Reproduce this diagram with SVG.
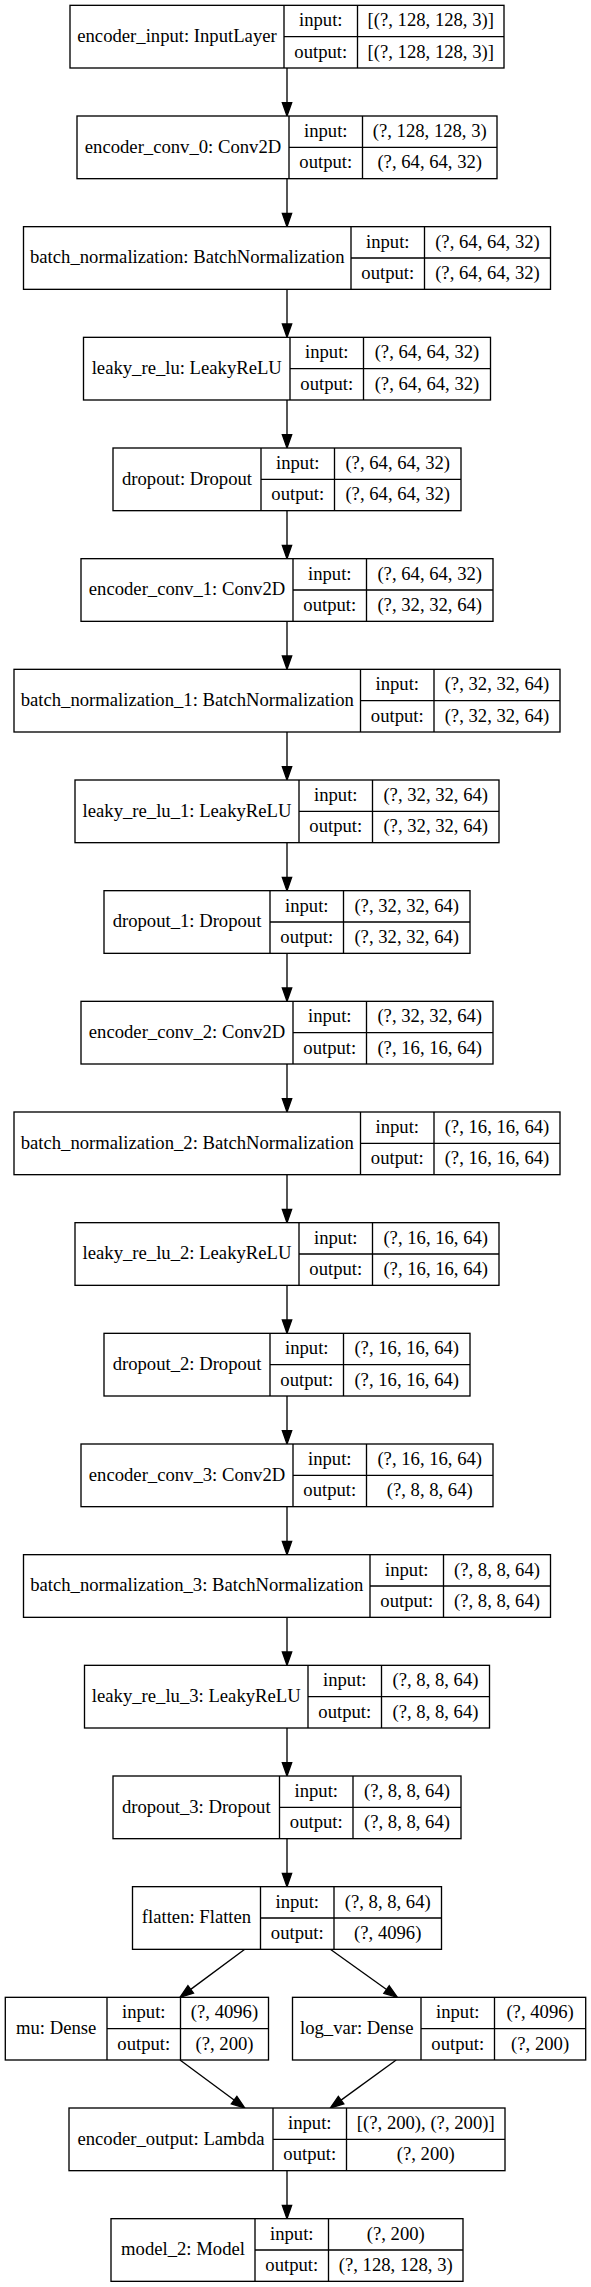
<svg xmlns="http://www.w3.org/2000/svg" width="591" height="2287" viewBox="0 0 591 2287">
<style>
.box{fill:#fff;stroke:#000;stroke-width:1.33}
.ln{stroke:#000;stroke-width:1.33;fill:none}
text{font-family:"Liberation Serif","Times New Roman",serif;font-size:18.67px;fill:#000;text-anchor:middle}
.edge{stroke:#000;stroke-width:1.33;fill:none;marker-end:url(#ah)}
</style>
<defs>
<marker id="ah" markerUnits="userSpaceOnUse" markerWidth="14" markerHeight="10" refX="0" refY="4.67" orient="auto" overflow="visible">
<path d="M0,0 L13.33,4.67 L0,9.33 z" fill="#000" stroke="#000" stroke-width="1.33"/>
</marker>
</defs>
<rect x="0" y="0" width="591" height="2287" fill="#fff"/>

<g id="connectors">
<path class="edge" d="M287,68 V102.67"/>
<path class="edge" d="M287,178.67 V213.33"/>
<path class="edge" d="M287,289.33 V324"/>
<path class="edge" d="M287,400 V434.67"/>
<path class="edge" d="M287,510.67 V545.33"/>
<path class="edge" d="M287,621.33 V656"/>
<path class="edge" d="M287,732 V766.67"/>
<path class="edge" d="M287,842.67 V877.33"/>
<path class="edge" d="M287,953.33 V988"/>
<path class="edge" d="M287,1064 V1098.67"/>
<path class="edge" d="M287,1174.67 V1209.33"/>
<path class="edge" d="M287,1285.33 V1320"/>
<path class="edge" d="M287,1396 V1430.67"/>
<path class="edge" d="M287,1506.67 V1541.33"/>
<path class="edge" d="M287,1617.33 V1652"/>
<path class="edge" d="M287,1728 V1762.67"/>
<path class="edge" d="M287,1838.67 V1873.33"/>
<path class="edge" d="M244.8,1949.33 L190.71,1989.4"/>
<path class="edge" d="M330.3,1949.33 L386.56,1989.57"/>
<path class="edge" d="M180,2060 L234.09,2100.07"/>
<path class="edge" d="M396.2,2060 L341.07,2100.15"/>
<path class="edge" d="M287,2170.67 V2205.33"/>
</g>

<g id="encoder_input" transform="translate(0,5.33)">
<rect class="box" x="70" y="0" width="434" height="62.67"/>
<path class="ln" d="M284,0 V62.67 M357.5,0 V62.67 M284,31.33 H504"/>
<text x="177" y="36.6">encoder_input: InputLayer</text>
<text x="320.75" y="21">input:</text>
<text x="320.75" y="52.3">output:</text>
<text x="430.75" y="21">[(?, 128, 128, 3)]</text>
<text x="430.75" y="52.3">[(?, 128, 128, 3)]</text>
</g>

<g id="encoder_conv_0" transform="translate(0,116)">
<rect class="box" x="77" y="0" width="420" height="62.67"/>
<path class="ln" d="M289,0 V62.67 M362.5,0 V62.67 M289,31.33 H497"/>
<text x="183" y="36.6">encoder_conv_0: Conv2D</text>
<text x="325.75" y="21">input:</text>
<text x="325.75" y="52.3">output:</text>
<text x="429.75" y="21">(?, 128, 128, 3)</text>
<text x="429.75" y="52.3">(?, 64, 64, 32)</text>
</g>

<g id="batch_normalization" transform="translate(0,226.67)">
<rect class="box" x="23.5" y="0" width="527" height="62.67"/>
<path class="ln" d="M351,0 V62.67 M424.5,0 V62.67 M351,31.33 H550.5"/>
<text x="187.25" y="36.6">batch_normalization: BatchNormalization</text>
<text x="387.75" y="21">input:</text>
<text x="387.75" y="52.3">output:</text>
<text x="487.5" y="21">(?, 64, 64, 32)</text>
<text x="487.5" y="52.3">(?, 64, 64, 32)</text>
</g>

<g id="leaky_re_lu" transform="translate(0,337.33)">
<rect class="box" x="83.5" y="0" width="407" height="62.67"/>
<path class="ln" d="M290,0 V62.67 M363.5,0 V62.67 M290,31.33 H490.5"/>
<text x="186.75" y="36.6">leaky_re_lu: LeakyReLU</text>
<text x="326.75" y="21">input:</text>
<text x="326.75" y="52.3">output:</text>
<text x="427" y="21">(?, 64, 64, 32)</text>
<text x="427" y="52.3">(?, 64, 64, 32)</text>
</g>

<g id="dropout" transform="translate(0,448)">
<rect class="box" x="113" y="0" width="348" height="62.67"/>
<path class="ln" d="M261,0 V62.67 M334.5,0 V62.67 M261,31.33 H461"/>
<text x="187" y="36.6">dropout: Dropout</text>
<text x="297.75" y="21">input:</text>
<text x="297.75" y="52.3">output:</text>
<text x="397.75" y="21">(?, 64, 64, 32)</text>
<text x="397.75" y="52.3">(?, 64, 64, 32)</text>
</g>

<g id="encoder_conv_1" transform="translate(0,558.67)">
<rect class="box" x="81" y="0" width="412" height="62.67"/>
<path class="ln" d="M293,0 V62.67 M366.5,0 V62.67 M293,31.33 H493"/>
<text x="187" y="36.6">encoder_conv_1: Conv2D</text>
<text x="329.75" y="21">input:</text>
<text x="329.75" y="52.3">output:</text>
<text x="429.75" y="21">(?, 64, 64, 32)</text>
<text x="429.75" y="52.3">(?, 32, 32, 64)</text>
</g>

<g id="batch_normalization_1" transform="translate(0,669.33)">
<rect class="box" x="14" y="0" width="546" height="62.67"/>
<path class="ln" d="M360.5,0 V62.67 M434,0 V62.67 M360.5,31.33 H560"/>
<text x="187.25" y="36.6">batch_normalization_1: BatchNormalization</text>
<text x="397.25" y="21">input:</text>
<text x="397.25" y="52.3">output:</text>
<text x="497" y="21">(?, 32, 32, 64)</text>
<text x="497" y="52.3">(?, 32, 32, 64)</text>
</g>

<g id="leaky_re_lu_1" transform="translate(0,780)">
<rect class="box" x="75" y="0" width="424" height="62.67"/>
<path class="ln" d="M299,0 V62.67 M372.5,0 V62.67 M299,31.33 H499"/>
<text x="187" y="36.6">leaky_re_lu_1: LeakyReLU</text>
<text x="335.75" y="21">input:</text>
<text x="335.75" y="52.3">output:</text>
<text x="435.75" y="21">(?, 32, 32, 64)</text>
<text x="435.75" y="52.3">(?, 32, 32, 64)</text>
</g>

<g id="dropout_1" transform="translate(0,890.67)">
<rect class="box" x="104" y="0" width="366" height="62.67"/>
<path class="ln" d="M270,0 V62.67 M343.5,0 V62.67 M270,31.33 H470"/>
<text x="187" y="36.6">dropout_1: Dropout</text>
<text x="306.75" y="21">input:</text>
<text x="306.75" y="52.3">output:</text>
<text x="406.75" y="21">(?, 32, 32, 64)</text>
<text x="406.75" y="52.3">(?, 32, 32, 64)</text>
</g>

<g id="encoder_conv_2" transform="translate(0,1001.33)">
<rect class="box" x="81" y="0" width="412" height="62.67"/>
<path class="ln" d="M293,0 V62.67 M366.5,0 V62.67 M293,31.33 H493"/>
<text x="187" y="36.6">encoder_conv_2: Conv2D</text>
<text x="329.75" y="21">input:</text>
<text x="329.75" y="52.3">output:</text>
<text x="429.75" y="21">(?, 32, 32, 64)</text>
<text x="429.75" y="52.3">(?, 16, 16, 64)</text>
</g>

<g id="batch_normalization_2" transform="translate(0,1112)">
<rect class="box" x="14" y="0" width="546" height="62.67"/>
<path class="ln" d="M360.5,0 V62.67 M434,0 V62.67 M360.5,31.33 H560"/>
<text x="187.25" y="36.6">batch_normalization_2: BatchNormalization</text>
<text x="397.25" y="21">input:</text>
<text x="397.25" y="52.3">output:</text>
<text x="497" y="21">(?, 16, 16, 64)</text>
<text x="497" y="52.3">(?, 16, 16, 64)</text>
</g>

<g id="leaky_re_lu_2" transform="translate(0,1222.67)">
<rect class="box" x="75" y="0" width="424" height="62.67"/>
<path class="ln" d="M299,0 V62.67 M372.5,0 V62.67 M299,31.33 H499"/>
<text x="187" y="36.6">leaky_re_lu_2: LeakyReLU</text>
<text x="335.75" y="21">input:</text>
<text x="335.75" y="52.3">output:</text>
<text x="435.75" y="21">(?, 16, 16, 64)</text>
<text x="435.75" y="52.3">(?, 16, 16, 64)</text>
</g>

<g id="dropout_2" transform="translate(0,1333.33)">
<rect class="box" x="104" y="0" width="366" height="62.67"/>
<path class="ln" d="M270,0 V62.67 M343.5,0 V62.67 M270,31.33 H470"/>
<text x="187" y="36.6">dropout_2: Dropout</text>
<text x="306.75" y="21">input:</text>
<text x="306.75" y="52.3">output:</text>
<text x="406.75" y="21">(?, 16, 16, 64)</text>
<text x="406.75" y="52.3">(?, 16, 16, 64)</text>
</g>

<g id="encoder_conv_3" transform="translate(0,1444)">
<rect class="box" x="81" y="0" width="412" height="62.67"/>
<path class="ln" d="M293,0 V62.67 M366.5,0 V62.67 M293,31.33 H493"/>
<text x="187" y="36.6">encoder_conv_3: Conv2D</text>
<text x="329.75" y="21">input:</text>
<text x="329.75" y="52.3">output:</text>
<text x="429.75" y="21">(?, 16, 16, 64)</text>
<text x="429.75" y="52.3">(?, 8, 8, 64)</text>
</g>

<g id="batch_normalization_3" transform="translate(0,1554.67)">
<rect class="box" x="23.5" y="0" width="527" height="62.67"/>
<path class="ln" d="M370,0 V62.67 M443.5,0 V62.67 M370,31.33 H550.5"/>
<text x="196.75" y="36.6">batch_normalization_3: BatchNormalization</text>
<text x="406.75" y="21">input:</text>
<text x="406.75" y="52.3">output:</text>
<text x="497" y="21">(?, 8, 8, 64)</text>
<text x="497" y="52.3">(?, 8, 8, 64)</text>
</g>

<g id="leaky_re_lu_3" transform="translate(0,1665.33)">
<rect class="box" x="84.5" y="0" width="405" height="62.67"/>
<path class="ln" d="M308,0 V62.67 M381.5,0 V62.67 M308,31.33 H489.5"/>
<text x="196.25" y="36.6">leaky_re_lu_3: LeakyReLU</text>
<text x="344.75" y="21">input:</text>
<text x="344.75" y="52.3">output:</text>
<text x="435.5" y="21">(?, 8, 8, 64)</text>
<text x="435.5" y="52.3">(?, 8, 8, 64)</text>
</g>

<g id="dropout_3" transform="translate(0,1776)">
<rect class="box" x="113" y="0" width="348" height="62.67"/>
<path class="ln" d="M279.5,0 V62.67 M353,0 V62.67 M279.5,31.33 H461"/>
<text x="196.25" y="36.6">dropout_3: Dropout</text>
<text x="316.25" y="21">input:</text>
<text x="316.25" y="52.3">output:</text>
<text x="407" y="21">(?, 8, 8, 64)</text>
<text x="407" y="52.3">(?, 8, 8, 64)</text>
</g>

<g id="flatten" transform="translate(0,1886.67)">
<rect class="box" x="132.5" y="0" width="309" height="62.67"/>
<path class="ln" d="M260.5,0 V62.67 M334,0 V62.67 M260.5,31.33 H441.5"/>
<text x="196.5" y="36.6">flatten: Flatten</text>
<text x="297.25" y="21">input:</text>
<text x="297.25" y="52.3">output:</text>
<text x="387.75" y="21">(?, 8, 8, 64)</text>
<text x="387.75" y="52.3">(?, 4096)</text>
</g>

<g id="mu" transform="translate(0,1997.33)">
<rect class="box" x="5.3" y="0" width="263.2" height="62.67"/>
<path class="ln" d="M107,0 V62.67 M180.5,0 V62.67 M107,31.33 H268.5"/>
<text x="56.15" y="36.6">mu: Dense</text>
<text x="143.75" y="21">input:</text>
<text x="143.75" y="52.3">output:</text>
<text x="224.5" y="21">(?, 4096)</text>
<text x="224.5" y="52.3">(?, 200)</text>
</g>

<g id="log_var" transform="translate(0,1997.33)">
<rect class="box" x="292.5" y="0" width="293.2" height="62.67"/>
<path class="ln" d="M421,0 V62.67 M494.5,0 V62.67 M421,31.33 H585.7"/>
<text x="356.75" y="36.6">log_var: Dense</text>
<text x="457.75" y="21">input:</text>
<text x="457.75" y="52.3">output:</text>
<text x="540.1" y="21">(?, 4096)</text>
<text x="540.1" y="52.3">(?, 200)</text>
</g>

<g id="encoder_output" transform="translate(0,2108)">
<rect class="box" x="69" y="0" width="436" height="62.67"/>
<path class="ln" d="M273,0 V62.67 M346.5,0 V62.67 M273,31.33 H505"/>
<text x="171" y="36.6">encoder_output: Lambda</text>
<text x="309.75" y="21">input:</text>
<text x="309.75" y="52.3">output:</text>
<text x="425.75" y="21">[(?, 200), (?, 200)]</text>
<text x="425.75" y="52.3">(?, 200)</text>
</g>

<g id="model_2" transform="translate(0,2218.67)">
<rect class="box" x="111" y="0" width="352" height="62.67"/>
<path class="ln" d="M255,0 V62.67 M328.5,0 V62.67 M255,31.33 H463"/>
<text x="183" y="36.6">model_2: Model</text>
<text x="291.75" y="21">input:</text>
<text x="291.75" y="52.3">output:</text>
<text x="395.75" y="21">(?, 200)</text>
<text x="395.75" y="52.3">(?, 128, 128, 3)</text>
</g>
</svg>
